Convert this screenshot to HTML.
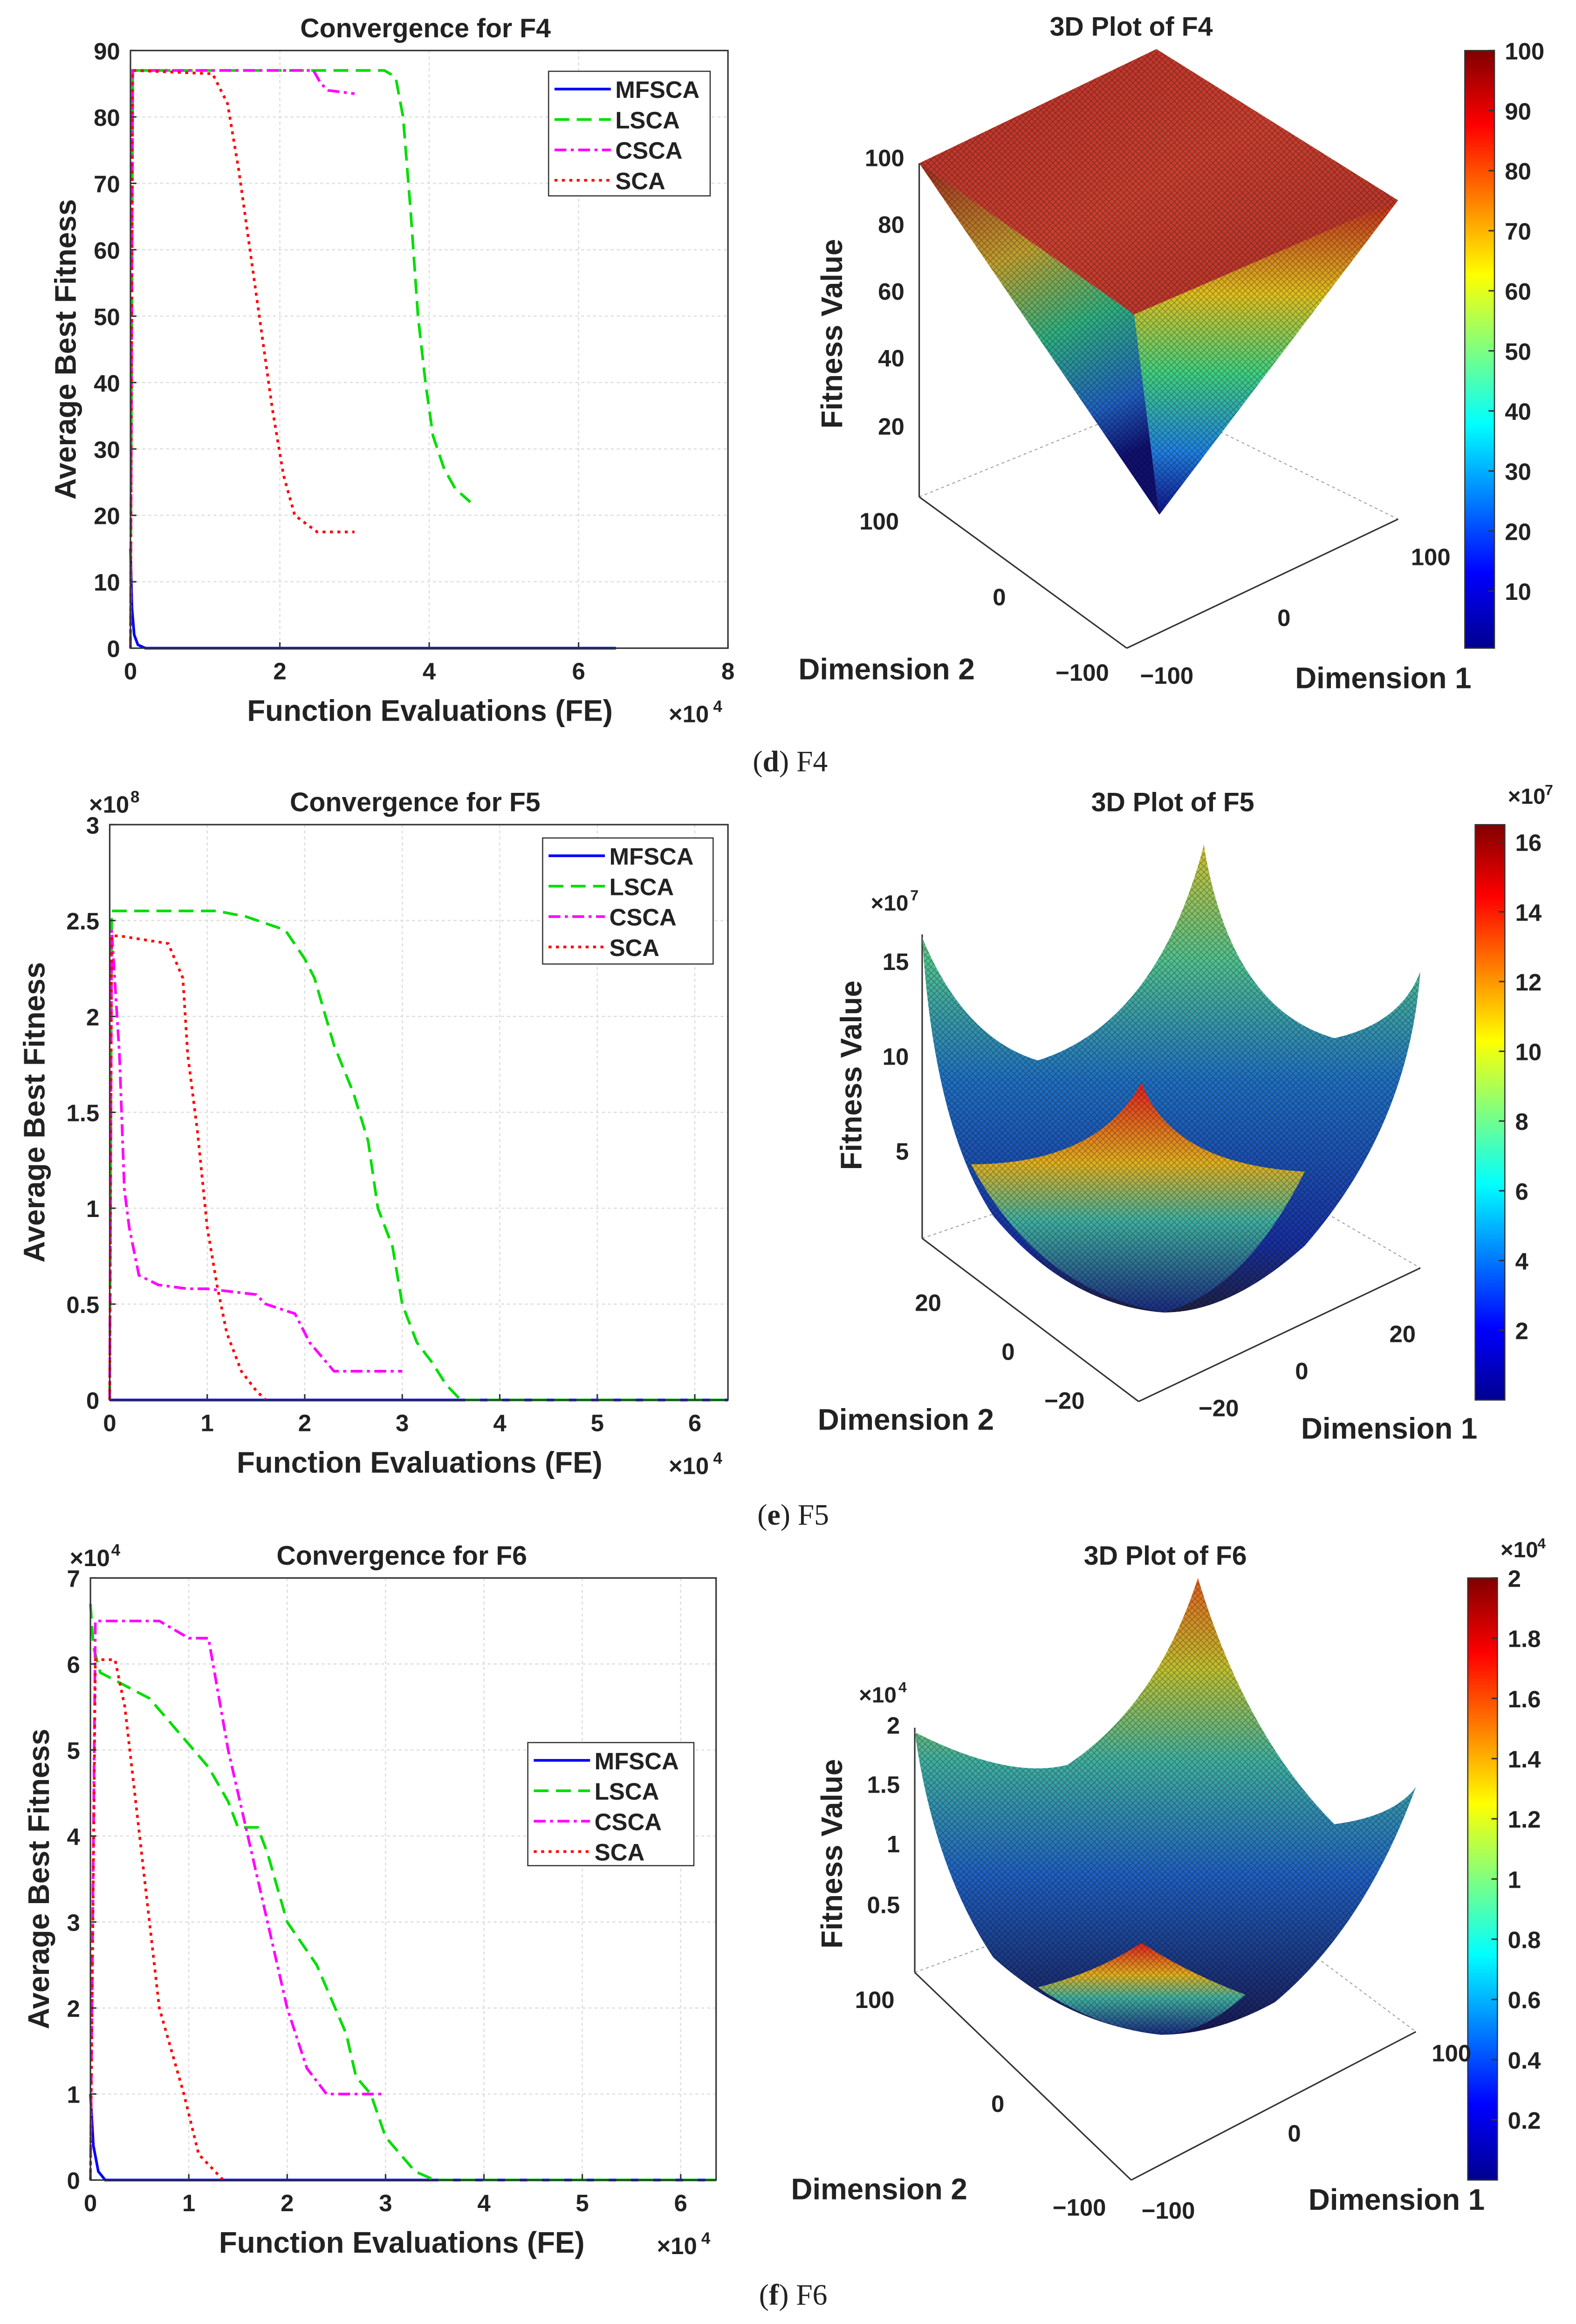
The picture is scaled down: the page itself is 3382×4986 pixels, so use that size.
<!DOCTYPE html>
<html><head><meta charset="utf-8"><style>
html,body{margin:0;padding:0;background:#fff}
svg{display:block}
text{font-family:"Liberation Sans",sans-serif;font-weight:bold;fill:#222}
</style></head><body>
<svg id="root" xmlns="http://www.w3.org/2000/svg" width="3382" height="4986" viewBox="0 0 1063 1567">
<defs>
<linearGradient id="jetV" x1="0" y1="1" x2="0" y2="0">
<stop offset="0" stop-color="#00008f"/><stop offset="0.125" stop-color="#0000ff"/><stop offset="0.375" stop-color="#00ffff"/><stop offset="0.625" stop-color="#ffff00"/><stop offset="0.875" stop-color="#ff0000"/><stop offset="1" stop-color="#800000"/>
</linearGradient>
<linearGradient id="topF4" x1="0" y1="0" x2="1" y2="1">
<stop offset="0" stop-color="#b83028"/><stop offset="0.5" stop-color="#c84030"/><stop offset="1" stop-color="#b03028"/>
</linearGradient>
<linearGradient id="faceL" x1="0" y1="0" x2="0.3" y2="1">
<stop offset="0" stop-color="#a02820"/><stop offset="0.35" stop-color="#c0a030"/><stop offset="0.6" stop-color="#30b080"/><stop offset="0.85" stop-color="#2060c0"/><stop offset="1" stop-color="#101070"/>
</linearGradient>
<linearGradient id="faceR" x1="0" y1="0" x2="0" y2="1">
<stop offset="0" stop-color="#c02a20"/><stop offset="0.3" stop-color="#e0c020"/><stop offset="0.55" stop-color="#40d080"/><stop offset="0.8" stop-color="#2080e0"/><stop offset="1" stop-color="#10108a"/>
</linearGradient>
<linearGradient id="bowl" x1="0" y1="0" x2="0" y2="1">
<stop offset="0" stop-color="#d0c030"/><stop offset="0.25" stop-color="#50c090"/><stop offset="0.5" stop-color="#2070c0"/><stop offset="0.85" stop-color="#1830a0"/><stop offset="1" stop-color="#202040"/>
</linearGradient>
<linearGradient id="bowl6" x1="0" y1="0" x2="0" y2="1">
<stop offset="0" stop-color="#e06020"/><stop offset="0.2" stop-color="#c0c030"/><stop offset="0.4" stop-color="#40b0a0"/><stop offset="0.65" stop-color="#2060c0"/><stop offset="1" stop-color="#181850"/>
</linearGradient>
<linearGradient id="peak" x1="0" y1="0" x2="0" y2="1">
<stop offset="0" stop-color="#e02020"/><stop offset="0.35" stop-color="#e0b020"/><stop offset="0.6" stop-color="#40b0a0"/><stop offset="1" stop-color="#1a2a80"/>
</linearGradient>
<pattern id="mesh" width="4" height="4" patternUnits="userSpaceOnUse"><path d="M0 0L4 4M4 0L0 4" stroke="#000" stroke-opacity="0.3" stroke-width="0.5"/></pattern>
</defs>
<g id="charts"></g>
</svg>
<script>
// ---------- data ----------
const f4Series = ["MFSCA","LSCA","CSCA","SCA"];
const f4_mfsca_x=[0,0.02,0.05,0.1,0.2,6.5], f4_mfsca_y=[15,6,2,0.5,0,0];
const f4_lsca_x=[0,0.03,3.4,3.55,3.65,3.75,3.85,3.95,4.05,4.2,4.35,4.55], f4_lsca_y=[0,87,87,86,80,66,50,40,32,27,24,22];
const f4_csca_x=[0,0.03,2.45,2.55,2.65,3.0], f4_csca_y=[0,87,87,85,84,83.5];
const f4_sca_x=[0,0.03,1.1,1.3,1.45,1.6,1.75,1.9,2.05,2.2,2.5,3.0], f4_sca_y=[0,87,86.5,82,72,60,48,36,26,20,17.5,17.5];
const f4_yticks=[0,10,20,30,40,50,60,70,80,90], f4_xticks=[0,2,4,6,8];

const f5_mfsca_x=[0,6.34], f5_mfsca_y=[0,0];
const f5_lsca_x=[0,0.02,1.1,1.4,1.8,2.0,2.1,2.3,2.5,2.65,2.75,2.9,3.0,3.15,3.3,3.45,3.6,6.34], f5_lsca_y=[0,2.55,2.55,2.52,2.45,2.3,2.2,1.85,1.6,1.35,1.0,0.8,0.5,0.3,0.2,0.08,0,0];
const f5_csca_x=[0,0.02,0.1,0.15,0.2,0.3,0.5,0.8,1.0,1.5,1.6,1.9,2.05,2.3,3.0], f5_csca_y=[0,2.45,1.8,1.1,0.9,0.65,0.6,0.58,0.58,0.55,0.5,0.45,0.3,0.15,0.15];
const f5_sca_x=[0,0.02,0.1,0.6,0.75,0.8,0.9,1.0,1.1,1.2,1.35,1.5,1.6], f5_sca_y=[0,2.42,2.42,2.38,2.2,1.8,1.4,0.9,0.6,0.35,0.15,0.05,0];
const f5_yticks=[0,0.5,1,1.5,2,2.5,3], f5_xticks=[0,1,2,3,4,5,6];

const f6_mfsca_x=[0,0.03,0.08,0.15,6.36], f6_mfsca_y=[1,0.4,0.1,0,0];
const f6_lsca_x=[0,0.03,0.1,0.6,0.9,1.2,1.4,1.5,1.7,1.8,2.0,2.3,2.6,2.7,2.85,3.0,3.3,3.5,6.36], f6_lsca_y=[6.7,6.2,5.9,5.6,5.2,4.8,4.4,4.1,4.1,3.8,3.0,2.5,1.7,1.2,1.0,0.5,0.1,0,0];
const f6_csca_x=[0,0.05,0.7,1.0,1.2,1.4,1.6,1.8,2.0,2.2,2.4,3.0], f6_csca_y=[0,6.5,6.5,6.3,6.3,5.0,4.0,3.0,2.0,1.3,1.0,1.0];
const f6_sca_x=[0,0.05,0.25,0.35,0.5,0.7,0.95,1.1,1.35], f6_sca_y=[0,6.05,6.05,5.5,4.0,2.0,1.0,0.3,0];
const f6_yticks=[0,1,2,3,4,5,6,7], f6_xticks=[0,1,2,3,4,5,6];

const cb4=[10,20,30,40,50,60,70,80,90,100], cb5=[2,4,6,8,10,12,14,16], cb6=[0.2,0.4,0.6,0.8,1,1.2,1.4,1.6,1.8,2];

// ---------- helpers ----------
const NS="http://www.w3.org/2000/svg";
const root=document.getElementById('charts');
function mk(tag,attrs,parent,txt){const e=document.createElementNS(NS,tag);for(const k in attrs)e.setAttribute(k,attrs[k]);if(txt!==undefined)e.textContent=txt;(parent||root).appendChild(e);return e;}
const colors={MFSCA:"#0000ff",LSCA:"#00dd00",CSCA:"#ff00ff",SCA:"#ff0000"};
const dashes={MFSCA:"",LSCA:"10 5",CSCA:"8 3 2 3",SCA:"2 3"};

function conv(o){
  const g=mk('g',{});
  
  
  const X=v=>o.x0+(v-0)/(o.xmax)*(o.x1-o.x0);
  const Y=v=>o.y1-(v/o.ymax)*(o.y1-o.y0);
  o.xt.forEach(t=>{const l=mk('line',{x1:X(t),x2:X(t),y1:o.y0,y2:o.y1,stroke:'#ddd','stroke-dasharray':'2 2','stroke-width':0.8},g);});
  o.yt.forEach(t=>{const l=mk('line',{x1:o.x0,x2:o.x1,y1:Y(t),y2:Y(t),stroke:'#ddd','stroke-dasharray':'2 2','stroke-width':0.8},g);});
  o.series.forEach(s=>{
    const d=s.x.map((v,i)=>(i?'L':'M')+X(Math.min(v,o.xmax)).toFixed(2)+' '+Y(s.y[i]).toFixed(2)).join('');
    const p=mk('path',{d:d,fill:'none',stroke:colors[s.n],'stroke-width':1.8,'stroke-dasharray':dashes[s.n]},g);
    
    
  });
  const fr=mk('rect',{x:o.x0,y:o.y0,width:o.x1-o.x0,height:o.y1-o.y0,fill:'none',stroke:'#333','stroke-width':1},g);
  
  o.xt.forEach(t=>{mk('line',{x1:X(t),x2:X(t),y1:o.y1,y2:o.y1-4,stroke:'#333'},g);const tx=mk('text',{x:X(t),y:o.y1+21,'font-size':16,'text-anchor':'middle'},g,String(t));});
  o.yt.forEach(t=>{mk('line',{x1:o.x0,x2:o.x0+4,y1:Y(t),y2:Y(t),stroke:'#333'},g);const tx=mk('text',{x:o.x0-7,y:Y(t)+6,'font-size':16,'text-anchor':'end'},g,String(t));});
  const ti=mk('text',{x:o.tx,y:o.y0-9,'font-size':18,'text-anchor':'middle'},g,o.title);
  const xl=mk('text',{x:o.xlx,y:o.y1+49,'font-size':20,'text-anchor':'middle'},g,'Function Evaluations (FE)');
  const xm=mk('text',{x:o.x1-40,y:o.y1+50,'font-size':16},g,'×10');
  mk('text',{x:o.x1-10,y:o.y1+43,'font-size':11},g,'4');
  const yl=mk('text',{x:0,y:0,'font-size':20,'text-anchor':'middle',transform:`translate(${o.ylx},${(o.y0+o.y1)/2}) rotate(-90)`},g,'Average Best Fitness');
  if(o.ymult){const ym=mk('text',{x:o.x0-14,y:o.y0-8,'font-size':16},g,'×10');mk('text',{x:o.x0+14,y:o.y0-15,'font-size':11},g,o.ymult);}
  const L=o.leg; const lg=mk('g',{},g);
  mk('rect',{x:L[0],y:L[1],width:L[2],height:L[3],fill:'#fff',stroke:'#333','stroke-width':0.8},lg);
  o.series.forEach((s,i)=>{const yy=L[1]+12+i*20.5;
    const e=mk('g',{},lg);
    mk('line',{x1:L[0]+4,x2:L[0]+42,y1:yy,y2:yy,stroke:colors[s.n],'stroke-width':1.8,'stroke-dasharray':dashes[s.n]},e);
    mk('text',{x:L[0]+45,y:yy+6,'font-size':16},e,s.n);});
}

conv({name:'convergence-f4',x0:88,x1:491,y0:34,y1:437,xmax:8,ymax:90,xt:f4_xticks,yt:f4_yticks,title:'Convergence for F4',tx:287,xlx:290,ylx:51,leg:[370,48,109,84],
  series:[{n:'MFSCA',x:f4_mfsca_x,y:f4_mfsca_y},{n:'LSCA',x:f4_lsca_x,y:f4_lsca_y},{n:'CSCA',x:f4_csca_x,y:f4_csca_y},{n:'SCA',x:f4_sca_x,y:f4_sca_y}]});
conv({name:'convergence-f5',x0:74,x1:491,y0:556,y1:944,xmax:6.34,ymax:3,xt:f5_xticks,yt:f5_yticks,title:'Convergence for F5',tx:280,xlx:283,ylx:30,leg:[366,565,115,85],ymult:'8',
  series:[{n:'MFSCA',x:f5_mfsca_x,y:f5_mfsca_y},{n:'LSCA',x:f5_lsca_x,y:f5_lsca_y},{n:'CSCA',x:f5_csca_x,y:f5_csca_y},{n:'SCA',x:f5_sca_x,y:f5_sca_y}]});
conv({name:'convergence-f6',x0:61,x1:483,y0:1064,y1:1470,xmax:6.36,ymax:7,xt:f6_xticks,yt:f6_yticks,title:'Convergence for F6',tx:271,xlx:271,ylx:33,leg:[356,1175,112,83],ymult:'4',
  series:[{n:'MFSCA',x:f6_mfsca_x,y:f6_mfsca_y},{n:'LSCA',x:f6_lsca_x,y:f6_lsca_y},{n:'CSCA',x:f6_csca_x,y:f6_csca_y},{n:'SCA',x:f6_sca_x,y:f6_sca_y}]});

function colorbar(name,x,y0,y1,vals,vmin,vmax,mult){
  const g=mk('g',{});
  mk('rect',{x:x,y:y0,width:20,height:y1-y0,fill:'url(#jetV)',stroke:'#333','stroke-width':0.8},g);
  vals.forEach(v=>{const yy=y1-(v-vmin)/(vmax-vmin)*(y1-y0);mk('line',{x1:x+16,x2:x+20,y1:yy,y2:yy,stroke:'#333'},g);
    const t=mk('text',{x:x+27,y:yy+6,'font-size':16},g,String(v));});
  if(mult){mk('text',{x:x+22,y:y0-14,'font-size':15},g,'×10');mk('text',{x:x+47,y:y0-20,'font-size':10},g,mult);}
}
colorbar('colorbar-f4',988,34,437,cb4,0.5,100,null);
colorbar('colorbar-f5',995,556,944,cb5,0,16.5,'7');
colorbar('colorbar-f6',990,1064,1470,cb6,0,2,'4');

function lbl(x,y,s,fs,name,rot,anchor){const t=mk('text',{x:x,y:y,'font-size':fs,'text-anchor':anchor||'middle'},root,s);if(rot)t.setAttribute('transform',`rotate(-90 ${x} ${y})`);return t;}
function box3d(pts){pts.forEach(p=>mk('line',{x1:p[0],y1:p[1],x2:p[2],y2:p[3],stroke:'#999','stroke-width':0.6,'stroke-dasharray':'2 2'}));}
function caption(x,y,letter,rest,name){const t=mk('text',{x:x,y:y,'font-size':20,'text-anchor':'middle',style:'font-family:Liberation Serif,serif;font-weight:normal'},root);
  
  mk('tspan',{},t,'(');mk('tspan',{'font-weight':'bold'},t,letter);mk('tspan',{},t,') '+rest);}

// F4 3D
lbl(763,24,'3D Plot of F4',18,'plot-title-f4');
box3d([[620,110,620,335],[620,335,760,437],[760,437,943,350],[620,335,780,270],[780,270,943,350],[780,33,780,270]]);
mk('line',{x1:620,y1:335,x2:760,y2:437,stroke:'#333'});mk('line',{x1:760,y1:437,x2:943,y2:350,stroke:'#333'});
mk('line',{x1:620,y1:110,x2:620,y2:335,stroke:'#333'});
let s4=mk('g',{});
mk('polygon',{points:'620,110 780,33 943,135 765,212',fill:'url(#topF4)'},s4);
mk('polygon',{points:'620,110 765,212 782,347',fill:'url(#faceL)'},s4);
mk('polygon',{points:'765,212 943,135 782,347',fill:'url(#faceR)'},s4);
mk('polygon',{points:'620,110 780,33 943,135 765,212',fill:'url(#mesh)'},s4);
mk('polygon',{points:'620,110 765,212 782,347',fill:'url(#mesh)'},s4);
mk('polygon',{points:'765,212 943,135 782,347',fill:'url(#mesh)'},s4);
lbl(568,225,'Fitness Value',20,'z-axis-title',true);
[[20,287],[40,241],[60,196],[80,151],[100,106]].forEach(a=>lbl(610,a[1]+6,String(a[0]),16,'z-tick-label',false,'end'));
lbl(598,458,'Dimension 2',20,'y-axis-title');lbl(933,464,'Dimension 1',20,'x-axis-title');
lbl(593,357,'100',16,'y-tick-label');lbl(674,408,'0',16,'y-tick-label');lbl(730,459,'−100',16,'y-tick-label');
lbl(787,461,'−100',16,'x-tick-label');lbl(866,422,'0',16,'x-tick-label');lbl(965,381,'100',16,'x-tick-label');
caption(533,520,'d','F4','caption-d');

// F5 3D
lbl(791,547,'3D Plot of F5',18,'plot-title-f5');
box3d([[622,640,622,835],[622,835,768,945],[768,945,958,855],[622,835,812,770],[812,770,958,855],[812,570,812,770]]);
mk('line',{x1:622,y1:835,x2:768,y2:945,stroke:'#333'});mk('line',{x1:768,y1:945,x2:958,y2:855,stroke:'#333'});mk('line',{x1:622,y1:630,x2:622,y2:835,stroke:'#333'});
let s5=mk('g',{});
const bowlPath='M622,632 Q650,700 700,715 Q780,690 812,570 Q830,680 900,700 Q945,690 958,655 Q950,760 880,840 Q830,885 785,885 Q720,880 670,820 Q630,760 622,632Z';
mk('path',{d:bowlPath,fill:'url(#bowl)'},s5);
mk('path',{d:'M655,785 Q740,785 770,730 Q790,785 880,790 Q840,870 785,885 Q700,870 655,785Z',fill:'url(#peak)'},s5);
mk('path',{d:bowlPath,fill:'url(#mesh)'},s5);
lbl(581,725,'Fitness Value',20,'z-axis-title',true);
lbl(600,614,'×10',15,'z-multiplier');mk('text',{x:614,y:607,'font-size':10},root,'7');
[[5,776],[10,712],[15,648]].forEach(a=>lbl(613,a[1]+6,String(a[0]),16,'z-tick-label',false,'end'));
lbl(611,964,'Dimension 2',20,'y-axis-title');lbl(937,970,'Dimension 1',20,'x-axis-title');
lbl(626,884,'20',16,'y-tick-label');lbl(680,917,'0',16,'y-tick-label');lbl(718,950,'−20',16,'y-tick-label');
lbl(822,955,'−20',16,'x-tick-label');lbl(878,930,'0',16,'x-tick-label');lbl(946,905,'20',16,'x-tick-label');
caption(535,1028,'e','F5','caption-e');

// F6 3D
lbl(786,1055,'3D Plot of F6',18,'plot-title-f6');
box3d([[617,1170,617,1330],[617,1330,763,1470],[763,1470,955,1370],[617,1330,808,1260],[808,1260,955,1370],[808,1065,808,1260]]);
mk('line',{x1:617,y1:1330,x2:763,y2:1470,stroke:'#333'});mk('line',{x1:763,y1:1470,x2:955,y2:1370,stroke:'#333'});mk('line',{x1:617,y1:1165,x2:617,y2:1330,stroke:'#333'});
let s6=mk('g',{});
const b6='M617,1168 Q680,1200 720,1190 Q780,1150 808,1064 Q840,1170 900,1230 Q940,1225 955,1205 Q920,1300 860,1350 Q820,1372 783,1372 Q720,1365 670,1320 Q630,1260 617,1168Z';
mk('path',{d:b6,fill:'url(#bowl6)'},s6);
mk('path',{d:'M700,1340 Q740,1330 770,1310 Q800,1330 840,1345 Q810,1372 783,1372 Q740,1368 700,1340Z',fill:'url(#peak)'},s6);
mk('path',{d:b6,fill:'url(#mesh)'},s6);
lbl(568,1250,'Fitness Value',20,'z-axis-title',true);
lbl(592,1148,'×10',15,'z-multiplier');mk('text',{x:606,y:1141,'font-size':10},root,'4');
[['0.5',1284],['1',1243],['1.5',1203],['2',1163]].forEach(a=>lbl(607,a[1]+6,a[0],16,'z-tick-label',false,'end'));
lbl(593,1483,'Dimension 2',20,'y-axis-title');lbl(942,1490,'Dimension 1',20,'x-axis-title');
lbl(590,1354,'100',16,'y-tick-label');lbl(673,1424,'0',16,'y-tick-label');lbl(728,1494,'−100',16,'y-tick-label');
lbl(788,1496,'−100',16,'x-tick-label');lbl(873,1444,'0',16,'x-tick-label');lbl(979,1390,'100',16,'x-tick-label');
caption(535,1554,'f','F6','caption-f');
</script>
</body></html>
